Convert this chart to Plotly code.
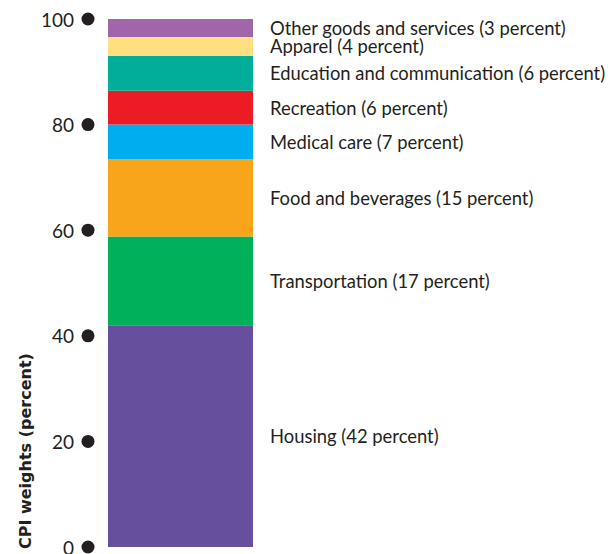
import numpy as np
import plotly.graph_objects as go

# CPI basket components, bottom to top
categories = ["Housing", "Transportation", "Food and beverages", "Medical care",
              "Recreation", "Education and communication", "Apparel",
              "Other goods and services"]
weights = [42.0, 16.8, 14.7, 6.5, 6.4, 6.6, 3.6, 3.4]
labels = ["Housing (42 percent)", "Transportation (17 percent)",
          "Food and beverages (15 percent)", "Medical care (7 percent)",
          "Recreation (6 percent)", "Education and communication (6 percent)",
          "Apparel (4 percent)", "Other goods and services (3 percent)"]
colors = ["#66509E", "#00B159", "#F8A51C", "#00AEEF",
          "#ED1C24", "#00AE9A", "#FFDF80", "#9F66A9"]
tick_vals = [0, 20, 40, 60, 80, 100]
tick_text = ["0", "20", "40", "60", "80", "100"]

FONT = "Lato"
TEXT = "#231F20"
DOT_X = -0.638

fig = go.Figure()

base = np.concatenate([[0], np.cumsum(weights)[:-1]])
for cat, w, b, c in zip(categories, weights, base, colors):
    fig.add_trace(go.Bar(
        x=[0], y=[w], base=[b], width=1, name=cat,
        marker=dict(color=c, line=dict(width=0)),
        hoverinfo="name+y",
    ))

# dots standing in for tick marks
fig.add_trace(go.Scatter(
    x=[DOT_X] * len(tick_vals), y=tick_vals, mode="markers",
    marker=dict(color=TEXT, size=13), cliponaxis=False, hoverinfo="skip",
))
for v, t in zip(tick_vals, tick_text):
    fig.add_annotation(x=DOT_X, y=v, text=t, showarrow=False,
                       xanchor="right", yanchor="middle", xshift=-12,
                       font=dict(family=FONT, size=19, color=TEXT))

# segment labels at the middle of each block
mids = base + np.array(weights) / 2
for lab, m in zip(labels, mids):
    fig.add_annotation(x=0.6, y=m, text=lab, showarrow=False,
                       xanchor="left", yanchor="middle",
                       font=dict(family=FONT, size=18.4, color=TEXT))

fig.add_annotation(x=-0.693, xref="x", xshift=-55, y=0, yref="paper",
                   text="<b>CPI weights (percent)</b>", textangle=-90,
                   showarrow=False, xanchor="center", yanchor="bottom",
                   yshift=-4,
                   font=dict(family="DejaVu Sans", size=16, color=TEXT))

# page body has an 8px margin, so the figure is 8px smaller than the window
fig.update_layout(
    width=608, height=546,
    margin=dict(l=72, r=0, t=11, b=7),
    barmode="overlay",
    showlegend=False,
    plot_bgcolor="white", paper_bgcolor="white",
    xaxis=dict(range=[-0.6931, 3.0034], visible=False, fixedrange=True),
    yaxis=dict(range=[0, 100], showgrid=False, zeroline=False,
               showline=False, ticks="", showticklabels=False,
               fixedrange=True),
)

fig.write_html("out.html")
